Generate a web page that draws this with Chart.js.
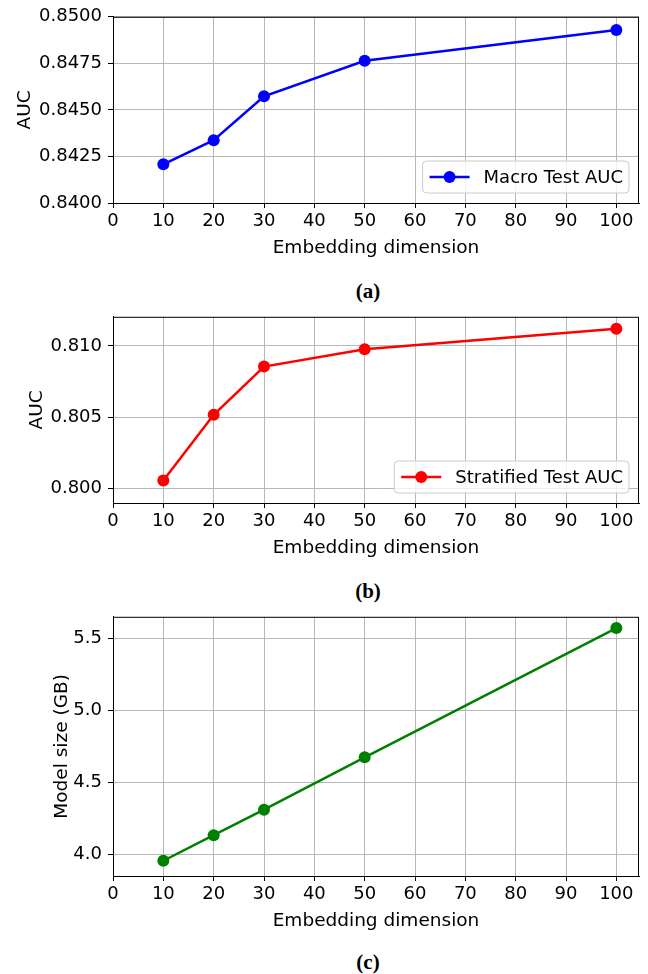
<!DOCTYPE html>
<html>
<head>
<meta charset="utf-8">
<script src="https://cdn.jsdelivr.net/npm/chart.js@4/dist/chart.umd.min.js"></script>
<style>
  body { margin: 0; background: #fff; width: 648px; height: 974px; position: relative; overflow: hidden; }
  .panel { position: absolute; left: 0; width: 648px; }
  .caption { position: absolute; left: 0; width: 736px; text-align: center; font-family: 'Liberation Serif', serif; font-weight: bold; font-size: 21px; color: #000; line-height: 21px; }
</style>
</head>
<body>
<div class="panel" style="top:0px;height:265px"><canvas id="chart-a"></canvas></div>
<div class="caption" style="top:281px">(a)</div>
<div class="panel" style="top:300px;height:265px"><canvas id="chart-b"></canvas></div>
<div class="caption" style="top:581px">(b)</div>
<div class="panel" style="top:600px;height:338px"><canvas id="chart-c"></canvas></div>
<div class="caption" style="top:952px">(c)</div>
<script>
const dims = [10, 20, 30, 50, 100];
const xTicks = [0, 10, 20, 30, 40, 50, 60, 70, 80, 90, 100];

const macroAuc = [0.84208, 0.84337, 0.84573, 0.84764, 0.84929];
const macroTicks = [0.8400, 0.8425, 0.8450, 0.8475, 0.8500];

const stratAuc = [0.80057, 0.80517, 0.80855, 0.80977, 0.81120];
const stratTicks = [0.800, 0.805, 0.810];

const modelSize = [3.956, 4.134, 4.311, 4.675, 5.574];
const sizeTicks = [4.0, 4.5, 5.0, 5.5];

const FONT = "'DejaVu Sans', sans-serif";

// matplotlib-ish frame + legend box in the lower right
const framePlugin = {
    id: 'frame',
    afterDraw(chart) {
        const {ctx, chartArea: a} = chart;
        ctx.save();
        ctx.strokeStyle = '#000';
        ctx.lineWidth = 1;
        ctx.strokeRect(a.left + 0.5, a.top + 0.5, a.right - a.left - 1, a.bottom - a.top);
        const ds = chart.data.datasets[0];
        if (chart.options.plugins.mplLegend.show) {
            ctx.font = '18px ' + FONT;
            const tw = ctx.measureText(ds.label).width;
            const w = 61 + tw + 6, h = 32;
            const x = a.right - 10 - w, y = a.bottom - 10 - h;
            ctx.beginPath();
            ctx.roundRect(x, y, w, h, 4);
            ctx.fillStyle = 'rgba(255,255,255,0.8)';
            ctx.fill();
            ctx.strokeStyle = '#cccccc';
            ctx.stroke();
            const cy = y + h / 2;
            ctx.strokeStyle = ds.borderColor;
            ctx.lineWidth = 2.5;
            ctx.beginPath();
            ctx.moveTo(x + 7, cy);
            ctx.lineTo(x + 47, cy);
            ctx.stroke();
            ctx.fillStyle = ds.borderColor;
            ctx.beginPath();
            ctx.arc(x + 27, cy, 6, 0, Math.PI * 2);
            ctx.fill();
            ctx.fillStyle = '#000';
            ctx.textBaseline = 'middle';
            ctx.fillText(ds.label, x + 61, cy + 1);
        }
        ctx.restore();
    }
};

function makeChart(canvasId, label, values, color, yMin, yMax, yTicks, decimals, yTitle, titlePad, padTop, showLegend) {
    const ctx = document.getElementById(canvasId).getContext('2d');
    return new Chart(ctx, {
        type: 'line',
        data: {
            datasets: [{
                label: label,
                data: dims.map((d, i) => ({x: d, y: values[i]})),
                borderColor: color,
                backgroundColor: color,
                borderWidth: 2.5,
                pointRadius: 6,
                pointBorderWidth: 0,
                tension: 0,
                fill: false,
            }],
        },
        options: {
            responsive: true,
            maintainAspectRatio: false,
            animation: false,
            layout: { padding: { top: padTop, right: 9, left: 0, bottom: 0 } },
            plugins: {
                legend: { display: false },
                tooltip: { enabled: false },
                mplLegend: { show: showLegend },
            },
            scales: {
                x: {
                    type: 'linear',
                    min: 0,
                    max: 104.5,
                    afterBuildTicks: s => { s.ticks = xTicks.map(v => ({value: v})); },
                    afterFit: s => { s.height = 62; },
                    grid: { color: '#b8b8b8', lineWidth: 1, tickLength: 5, tickColor: '#000' },
                    border: { display: true, color: '#000', width: 1 },
                    ticks: { color: '#000', padding: 3, maxRotation: 0, font: { family: FONT, size: 18 } },
                    title: {
                        display: true,
                        text: 'Embedding dimension',
                        color: '#000',
                        font: { family: FONT, size: 18.5 },
                        padding: { top: 0, bottom: 6 },
                    },
                },
                y: {
                    type: 'linear',
                    min: yMin,
                    max: yMax,
                    afterBuildTicks: s => { s.ticks = yTicks.map(v => ({value: v})); },
                    afterFit: s => { s.width = 113; },
                    grid: { color: '#b8b8b8', lineWidth: 1, tickLength: 5, tickColor: '#000' },
                    border: { display: true, color: '#000', width: 1 },
                    ticks: {
                        color: '#000',
                        padding: 6,
                        font: { family: FONT, size: 18 },
                        callback: v => Number(v).toFixed(decimals),
                    },
                    title: {
                        display: true,
                        text: yTitle,
                        color: '#000',
                        font: { family: FONT, size: 18.5 },
                        padding: { top: titlePad, bottom: 0 },
                    },
                },
            },
        },
        plugins: [framePlugin],
    });
}

makeChart('chart-a', 'Macro Test AUC', macroAuc, '#0000ff', 0.84, 0.85, macroTicks, 4, 'AUC', 14, 14, true);
makeChart('chart-b', 'Stratified Test AUC', stratAuc, '#ff0000', 0.79899, 0.81204, stratTicks, 3, 'AUC', 26, 15, true);
makeChart('chart-c', 'Model size', modelSize, '#008000', 3.850, 5.652, sizeTicks, 1, 'Model size (GB)', 51, 15, false);
</script>
</body>
</html>
